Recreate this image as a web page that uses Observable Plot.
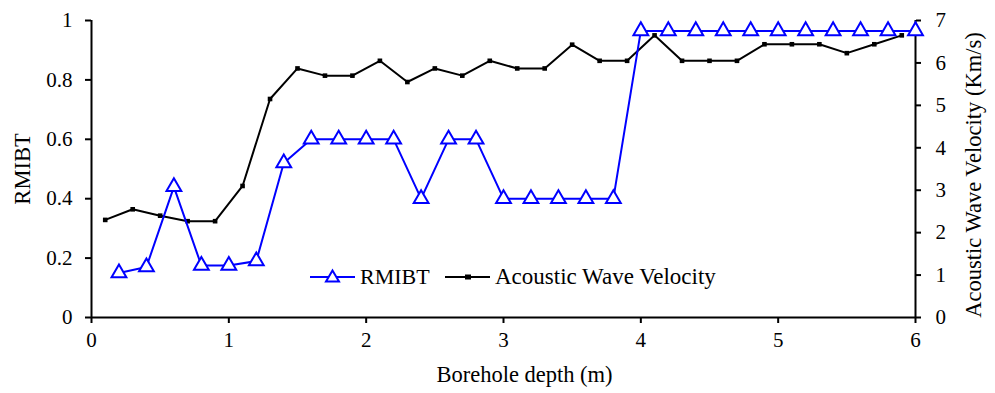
<!DOCTYPE html>
<html>
<head>
<meta charset="utf-8">
<script src="https://cdn.jsdelivr.net/npm/d3@7"></script>
<script src="https://cdn.jsdelivr.net/npm/@observablehq/plot@0.6"></script>
<style>
  body { margin: 0; background: #fff; font-family: 'Liberation Serif', 'Times New Roman', 'DejaVu Serif', serif; }
  #wrap { position: relative; width: 995px; height: 393px; }
  #wrap svg text { font-family: 'Liberation Serif', 'Times New Roman', 'DejaVu Serif', serif; }
  .leg { position: absolute; top: 262px; height: 30px; display: flex; align-items: center; font-size: 22px; line-height: 30px; color: #000; white-space: nowrap; font-family: 'Liberation Serif', 'Times New Roman', serif; }
  .leg svg { display: block; }
</style>
</head>
<body>
<div id="wrap"></div>
<script>
// Depths (m) for RMIBT samples
const depthR = [0.2,0.4,0.6,0.8,1.0,1.2,1.4,1.6,1.8,2.0,2.2,2.4,2.6,2.8,3.0,3.2,3.4,3.6,3.8,4.0,4.2,4.4,4.6,4.8,5.0,5.2,5.4,5.6,5.8,6.0];
const rmibt  = [0.15,0.17,0.44,0.175,0.175,0.19,0.52,0.6,0.6,0.6,0.6,0.4,0.6,0.6,0.4,0.4,0.4,0.4,0.4,0.965,0.965,0.965,0.965,0.965,0.965,0.965,0.965,0.965,0.965,0.965];
// Depths (m) for acoustic wave velocity samples
const depthV = [0.1,0.3,0.5,0.7,0.9,1.1,1.3,1.5,1.7,1.9,2.1,2.3,2.5,2.7,2.9,3.1,3.3,3.5,3.7,3.9,4.1,4.3,4.5,4.7,4.9,5.1,5.3,5.5,5.7,5.9];
const velocity = [2.3,2.55,2.4,2.27,2.27,3.1,5.15,5.87,5.7,5.7,6.05,5.55,5.87,5.7,6.05,5.87,5.87,6.43,6.05,6.05,6.65,6.05,6.05,6.05,6.44,6.44,6.44,6.23,6.44,6.65];
// Tick labels
const xTicks = [0,1,2,3,4,5,6];
const leftTicks = [0,0.2,0.4,0.6,0.8,1];
const rightTicks = [0,1,2,3,4,5,6,7];
const velMax = 7;

const rData = depthR.map((d,i) => ({depth: d, value: rmibt[i]}));
const vData = depthV.map((d,i) => ({depth: d, value: velocity[i] / velMax}));

const blue = "#0000ff";
const serif = "'Liberation Serif', 'Times New Roman', serif";

const chart = Plot.plot({
  width: 995,
  height: 393,
  marginLeft: 91,
  marginRight: 80,
  marginTop: 20,
  marginBottom: 76,
  style: {fontFamily: serif, fontSize: "21px", color: "#000", background: "#fff"},
  x: {domain: [0, 6]},
  y: {domain: [0, 1]},
  marks: [
    Plot.axisX(xTicks, {tickSize: 6, tickPadding: 9, strokeWidth: 2, fontSize: 21, tickFormat: d => String(d), label: null}),
    Plot.axisY(leftTicks, {anchor: "left", tickSize: 6, tickPadding: 13, strokeWidth: 2, fontSize: 21, tickFormat: d => String(d), label: null}),
    Plot.axisY(rightTicks.map(v => v / velMax), {anchor: "right", tickSize: 5, tickPadding: 15, strokeWidth: 2, fontSize: 21, tickFormat: d => String(Math.round(d * velMax)), label: null}),
    Plot.ruleX([0], {strokeWidth: 2}),
    Plot.ruleX([6], {strokeWidth: 2}),
    Plot.ruleY([0], {strokeWidth: 2}),
    Plot.line(vData, {x: "depth", y: "value", stroke: "#000", strokeWidth: 2}),
    Plot.dot(vData, {x: "depth", y: "value", symbol: "square", r: 2.6, fill: "#000", stroke: "none"}),
    Plot.line(rData, {x: "depth", y: "value", stroke: blue, strokeWidth: 2}),
    Plot.dot(rData, {x: "depth", y: "value", symbol: "triangle", r: 5.5, fill: "#fff", stroke: blue, strokeWidth: 2}),
    Plot.text(["RMIBT"], {frameAnchor: "left", textAnchor: "middle", dx: -69, rotate: -90, fontSize: 22.5}),
    Plot.text(["Acoustic Wave Velocity (Km/s)"], {frameAnchor: "right", textAnchor: "middle", dx: 58, dy: 6, rotate: -90, fontSize: 22.5}),
    Plot.text(["Borehole depth (m)"], {frameAnchor: "bottom", textAnchor: "middle", dx: 21, dy: 64, fontSize: 22.5})
  ]
});

const wrap = document.getElementById("wrap");
wrap.appendChild(chart);

const leg1 = document.createElement("div");
leg1.className = "leg";
leg1.style.left = "310px";
leg1.innerHTML = `
    <svg width="45" height="30"><line x1="0" y1="15" x2="45" y2="15" stroke="${blue}" stroke-width="2"/>
      <path d="M22.5,8.5 L29,19.5 L16,19.5 Z" fill="#fff" stroke="${blue}" stroke-width="2"/></svg>
    <span style="margin-left:5px">RMIBT</span>`;
wrap.appendChild(leg1);

const leg2 = document.createElement("div");
leg2.className = "leg";
leg2.style.left = "445px";
leg2.innerHTML = `
    <svg width="45" height="30"><line x1="0" y1="15" x2="45" y2="15" stroke="#000" stroke-width="2"/>
      <rect x="20" y="12.5" width="6" height="5" fill="#000"/></svg>
    <span style="margin-left:5px; font-size:23px">Acoustic Wave Velocity</span>`;
wrap.appendChild(leg2);
</script>
</body>
</html>
